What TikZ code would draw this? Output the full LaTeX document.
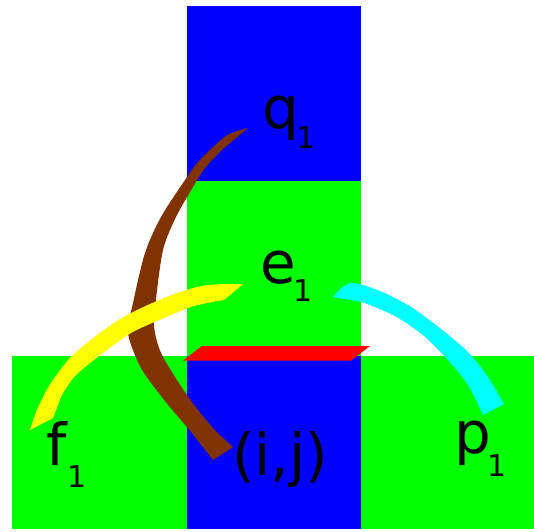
\documentclass[tikz,border=0pt]{standalone}
\usepackage{fontspec}
\setmainfont{DejaVu Sans}
\definecolor{cblue}{RGB}{0,0,255}
\definecolor{cgreen}{RGB}{0,255,0}
\definecolor{cred}{RGB}{255,0,0}
\definecolor{cyel}{RGB}{255,255,0}
\definecolor{ccyan}{RGB}{0,255,255}
\definecolor{cbrown}{RGB}{128,51,0}
\begin{document}
\begin{tikzpicture}[x=1pt,y=-1pt,
  lbl/.style={inner sep=0pt,anchor=base west,font=\fontsize{58}{58}\selectfont},
  sublbl/.style={inner sep=0pt,anchor=base west,font=\fontsize{30}{30}\selectfont}]
\useasboundingbox (0,0) rectangle (534,531);
% cells
\fill[cblue] (187,6) rectangle (361,181);
\fill[cgreen] (187,181) rectangle (361,355.5);
\fill[cgreen] (12,355.5) rectangle (187,529);
\fill[cblue] (187,355.5) rectangle (361,529);
\fill[cgreen] (361,355.5) rectangle (534,529);
% red parallelogram
\fill[cred] (202,346) -- (370,346) -- (351,360.5) -- (183,360.5) -- cycle;
% brown stroke
\fill[cbrown] plot[smooth] coordinates {(248,128) (226,136) (199,161) (185,180) (161,217) (145,253) (133,303) (128,333) (141,368) (165,401) (191,432) (213,460)}
  -- plot[smooth] coordinates {(233,447) (213,428) (189,398) (162,355) (154,326) (156,299) (163,250) (175,219) (190,192) (205,168) (224,148)} -- cycle;
% yellow stroke
\fill[cyel] plot[smooth] coordinates {(243,284) (207,285) (180,292) (150,304) (120,319) (92,339) (69,359) (49,386) (37,410) (30,430)}
  -- plot[smooth] coordinates {(53,418) (58,405) (62,395) (75,376) (99,356) (131,333) (164,318) (194,306) (224,300)} -- cycle;
% cyan stroke
\fill[ccyan] plot[smooth] coordinates {(333,297) (350,283) (380,291) (411,307) (441,329) (468,352) (488,377) (504,404)}
  -- plot[smooth] coordinates {(483,415) (468,385) (447,359) (424,336) (395,316) (362,302)} -- cycle;
% labels
\node[lbl] (q) at (262,128) {q};
\node[sublbl] (q1) at (296,148) {1};
\node[lbl] (e) at (260,283) {e};
\node[sublbl] (e1) at (293,301) {1};
\node[lbl] (f) at (46,465) {f};
\node[sublbl] (f1) at (67,487) {1};
\node[lbl] (p) at (454,453) {p};
\node[sublbl] (p1) at (487,476) {1};
\node[lbl] (ij) at (232,475) {(i,j)};
\end{tikzpicture}
\end{document}
